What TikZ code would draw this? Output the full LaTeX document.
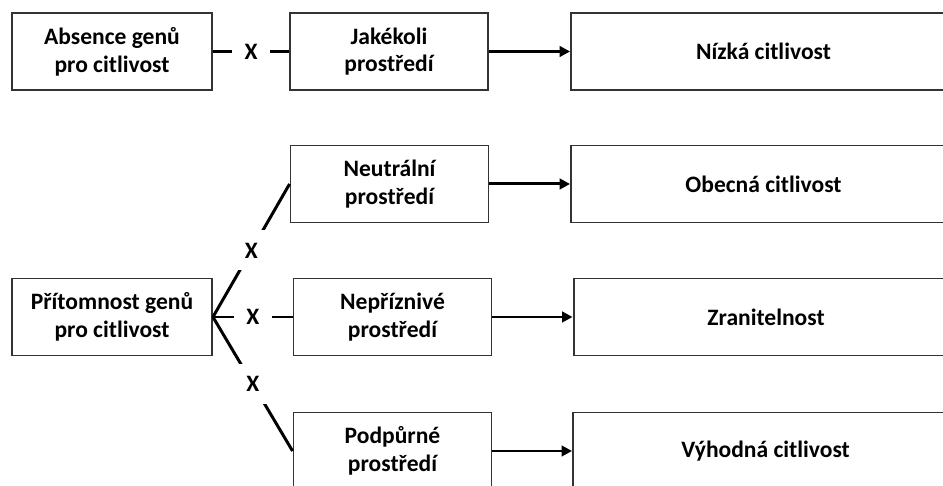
\documentclass[tikz,border=0pt]{standalone}
\usepackage{fontspec}
\setmainfont{Carlito}
\usetikzlibrary{arrows.meta}
\begin{document}
\begin{tikzpicture}[x=0.02cm,y=0.02cm,
        box/.style={draw=black!80,line width=1.1pt,fill=white,align=center,
            minimum height=1.54cm,inner sep=2pt,font=\bfseries\fontsize{13.4}{15.8}\selectfont},
        genbox/.style={box,minimum width=4cm},
        envbox/.style={box,minimum width=3.96cm},
        outbox/.style={box,minimum width=7.7cm},
        link/.style={line width=1.7pt},
        arr/.style={line width=1.7pt,-{Triangle[length=6pt,width=6pt]}},
        cross/.style={fill=white,inner sep=0pt,minimum width=0.76cm,minimum height=0.8cm,
            font=\bfseries\fontsize{13.4}{15.8}\selectfont}]
                \useasboundingbox (0,0) rectangle (943,486);
                \clip (0,0) rectangle (943,486);
                % geny
                \node[genbox] (absence) at (112,434.5) {Absence genů\\pro citlivost};
                \node[genbox] (pritomnost) at (112,169) {Přítomnost genů\\pro citlivost};
                % prostredi
                \node[envbox] (jakekoli) at (389,434.5) {Jakékoli\\prostředí};
                \node[envbox] (neutralni) at (389.5,302) {Neutrální\\prostředí};
                \node[envbox] (nepriznive) at (392.5,169) {Nepříznivé\\prostředí};
                \node[envbox] (podpurne) at (392.5,35) {Podpůrné\\prostředí};
                % citlivost
                \node[outbox] (nizka) at (763.5,434.5) {Nízká citlivost};
                \node[outbox] (obecna) at (763.5,302) {Obecná citlivost};
                \node[outbox] (zranitelnost) at (766,169) {Zranitelnost};
                \node[outbox] (vyhodna) at (765.5,35) {Výhodná citlivost};
                \draw[link] (absence.east) -- node[cross] (x1) {X} (jakekoli.west);
                \draw[link] (pritomnost.east) -- node[cross] (x2) {X} (neutralni.west);
                \draw[link] (pritomnost.east) -- node[cross] (x3) {X} (nepriznive.west);
                \draw[link] (pritomnost.east) -- node[cross] (x4) {X} (podpurne.west);
                \draw[arr] (jakekoli.east) -- (nizka.west);
                \draw[arr] (neutralni.east) -- (obecna.west);
                \draw[arr] (nepriznive.east) -- (zranitelnost.west);
                \draw[arr] (podpurne.east) -- (vyhodna.west);
            \end{tikzpicture}
\end{document}
